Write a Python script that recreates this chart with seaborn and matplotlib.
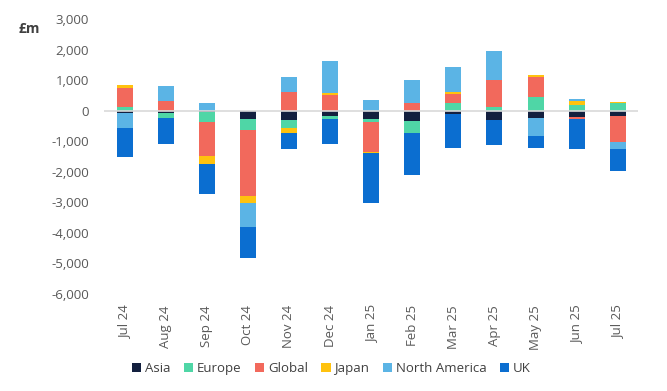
import numpy as np
import pandas as pd
import matplotlib
matplotlib.use("Agg")
import matplotlib.pyplot as plt
import seaborn as sns
from matplotlib.patches import Patch

# --- data (GBP m) ---
months = ["Jul 24", "Aug 24", "Sep 24", "Oct 24", "Nov 24", "Dec 24", "Jan 25",
          "Feb 25", "Mar 25", "Apr 25", "May 25", "Jun 25", "Jul 25"]
asia = [-60, -60, -50, -270, -300, -180, -280, -320, -90, -290, -220, -200, -180]
europe = [130, -190, -330, -370, -280, -100, -100, -420, 250, 120, 440, 200, 270]
global_ = [600, 330, -1100, -2160, 600, 520, -960, 270, 300, 890, 680, -80, -830]
japan = [110, 0, -260, -210, -140, 55, -30, 0, 65, 0, 55, 130, 30]
north_america = [-500, 490, 250, -780, 500, 1070, 340, 730, 810, 940, -610, 55, -250]
uk = [-940, -840, -990, -1030, -540, -820, -1660, -1360, -1140, -830, -380, -980, -720]

regions = ["Asia", "Europe", "Global", "Japan", "North America", "UK"]
series = [asia, europe, global_, japan, north_america, uk]
colors = ["#13203f", "#4fd6a6", "#f2695c", "#ffc20e", "#5bb4e5", "#0b6ed0"]

df = pd.DataFrame(dict(zip(regions, series)), index=months)

sns.set_theme(style="white")
plt.rcParams["font.family"] = ["Open Sans", "DejaVu Sans"]

fig = plt.figure(figsize=(6.67, 3.91), dpi=100)
ax = fig.add_axes([0.156, 0.248, 0.801, 0.703])

# stack positives upwards and negatives downwards, in legend order
pos_base = np.zeros(len(months))
neg_base = np.zeros(len(months))
for name, col in zip(regions, colors):
    vals = df[name].to_numpy(dtype=float)
    bottom = np.where(vals >= 0, pos_base, neg_base)
    sns.barplot(x=months, y=vals, order=months, color=col, width=0.39,
                bottom=bottom, linewidth=0, saturation=1, errorbar=None, ax=ax)
    pos_base += np.clip(vals, 0, None)
    neg_base += np.clip(vals, None, 0)

ax.axhline(0, color="#d9d9d9", lw=1.2, zorder=5)
ax.set_xlim(-0.5, 12.5)
ax.set_ylim(-6000, 3000)
ax.set_yticks(np.arange(-6000, 3001, 1000))
ax.set_yticklabels([f"{v:,}" for v in range(-6000, 3001, 1000)])
ax.tick_params(axis="y", length=0, pad=11, labelsize=9.5, labelcolor="#595959")
ax.tick_params(axis="x", length=0, pad=8, labelsize=9.5, labelcolor="#595959",
               rotation=90)
ax.set_xlabel("")
ax.set_ylabel("")
sns.despine(ax=ax, left=True, bottom=True)

fig.text(0.028, 0.915, "£m", fontsize=10, fontweight="bold", color="#404040")

handles = [Patch(facecolor=c, edgecolor="none") for c in colors]
fig.legend(handles, regions, loc="center", bbox_to_anchor=(0.497, 0.057),
           ncol=6, frameon=False, fontsize=9.5, handlelength=0.7,
           handleheight=0.7, handletextpad=0.3, columnspacing=1.0,
           labelcolor="#404040")

fig.savefig("out.png", dpi=100)
